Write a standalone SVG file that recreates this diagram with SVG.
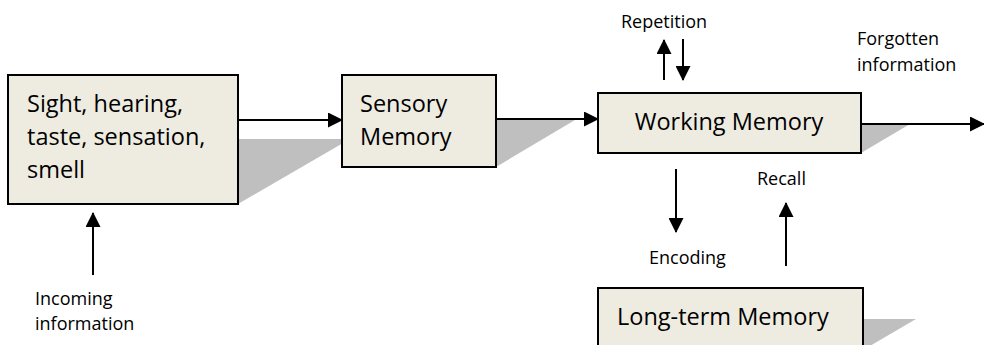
<svg xmlns="http://www.w3.org/2000/svg" width="984" height="345" viewBox="0 0 984 345">
  <defs>
    <marker id="head" markerUnits="userSpaceOnUse" markerWidth="15" markerHeight="15" refX="14" refY="7.5" orient="auto">
      <path d="M0,0 L15,7.5 L0,15 Z" fill="#000"/>
    </marker>
    <style>
      .box { fill: #EEECE1; stroke: #000; stroke-width: 2; }
      .shadow { fill: #BFBFBF; }
      .big { font-family: "Open Sans", "Liberation Sans", sans-serif; font-size: 23.5px; fill: #000; }
      .small { font-family: "Open Sans", "Liberation Sans", sans-serif; font-size: 18px; fill: #000; }
      .link { stroke: #000; stroke-width: 2; fill: none; marker-end: url(#head); }
    </style>
  </defs>
  <rect width="984" height="345" fill="#fff"/>

  <!-- drop shadows cast behind each box -->
  <g id="shadows">
    <polygon class="shadow" points="238,139 350,139 238,204"/>
    <polygon class="shadow" points="496,120 575,120 496,167"/>
    <polygon class="shadow" points="861,124 910,124 861,153"/>
    <polygon class="shadow" points="863,319 916,319 863,350"/>
  </g>

  <!-- connectors -->
  <g id="connectors">
    <line class="link" x1="239" y1="120" x2="342" y2="120"/>
    <line class="link" x1="497" y1="119" x2="598" y2="119"/>
    <line class="link" x1="862" y1="124" x2="984" y2="124"/>
    <line class="link" x1="93" y1="275" x2="93" y2="213"/>
    <line class="link" x1="664" y1="80" x2="664" y2="40"/>
    <line class="link" x1="683" y1="39" x2="683" y2="80"/>
    <line class="link" x1="676" y1="169" x2="676" y2="232"/>
    <line class="link" x1="786" y1="266" x2="786" y2="203"/>
  </g>

  <g id="senses">
    <rect class="box" x="8" y="75" width="230" height="129"/>
    <text class="big" x="27" y="112">Sight, hearing,</text>
    <text class="big" x="27" y="145">taste, sensation,</text>
    <text class="big" x="27" y="178">smell</text>
  </g>

  <g id="sensory-memory">
    <rect class="box" x="342" y="75" width="154" height="92"/>
    <text class="big" x="360" y="112">Sensory</text>
    <text class="big" x="360" y="145">Memory</text>
  </g>

  <g id="working-memory">
    <rect class="box" x="598" y="93" width="263" height="60"/>
    <text class="big" x="729" y="130" text-anchor="middle">Working Memory</text>
  </g>

  <g id="long-term-memory">
    <rect class="box" x="598" y="288" width="265" height="70"/>
    <text class="big" x="617" y="325">Long-term Memory</text>
  </g>

  <!-- free-standing labels -->
  <g id="labels">
    <text class="small" x="621" y="28">Repetition</text>
    <text class="small" x="857" y="45">Forgotten</text>
    <text class="small" x="857" y="71">information</text>
    <text class="small" x="757" y="185">Recall</text>
    <text class="small" x="649" y="264">Encoding</text>
    <text class="small" x="35" y="305">Incoming</text>
    <text class="small" x="35" y="330">information</text>
  </g>
</svg>
